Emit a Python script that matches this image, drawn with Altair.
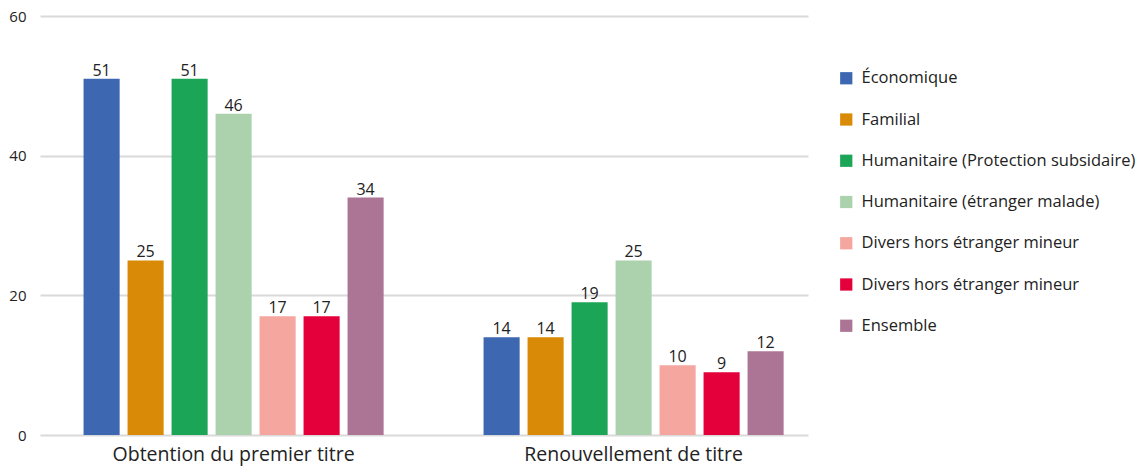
import altair as alt
import pandas as pd

groups = ["Obtention du premier titre", "Renouvellement de titre"]
series = [
    "Économique",
    "Familial",
    "Humanitaire (Protection subsidaire)",
    "Humanitaire (étranger malade)",
    "Divers hors étranger mineur",
    "Divers hors étranger mineur",
    "Ensemble",
]
colors = ["#3d67b0", "#d98a06", "#1ba557", "#abd1ad", "#f5a69f", "#e4003a", "#ac7596"]
first_title = [51, 25, 51, 46, 17, 17, 34]
renewal = [14, 14, 19, 25, 10, 9, 12]

# series keys are unique even when two labels repeat
keys = [f"s{i}" for i in range(len(series))]
rows = []
for g, vals in zip(groups, [first_title, renewal]):
    for k, v in zip(keys, vals):
        rows.append({"groupe": g, "serie": k, "valeur": v})
df = pd.DataFrame(rows)

label_expr = " : ".join(
    [f"datum.value == '{k}' ? '{s}'" for k, s in zip(keys, series)]
) + " : ''"

FONT = "Open Sans"
TXT = "#222222"

x = alt.X(
    "groupe:N",
    sort=groups,
    title=None,
    scale=alt.Scale(paddingInner=0.23, paddingOuter=0.075, align=0.66),
    axis=alt.Axis(labelAngle=0, labelFontSize=19.5, labelColor=TXT, labelFont=FONT,
                  labelLimit=500, ticks=False, domain=False, grid=False,
                  labelPadding=10),
)
xo = alt.XOffset("serie:N", sort=keys,
                 scale=alt.Scale(paddingInner=0.18, paddingOuter=0.09))
y = alt.Y(
    "valeur:Q",
    title=None,
    scale=alt.Scale(domain=[0, 60]),
    axis=alt.Axis(values=[0, 20, 40, 60], labelFontSize=15, labelColor=TXT,
                  labelFont=FONT, ticks=False, domain=False, labelPadding=14,
                  gridColor="#d9d9d9", gridWidth=2),
)

bars = alt.Chart(df).mark_bar().encode(
    x=x,
    xOffset=xo,
    y=y,
    color=alt.Color(
        "serie:N",
        sort=keys,
        scale=alt.Scale(domain=keys, range=colors),
        legend=alt.Legend(
            title=None, orient="none", legendX=798, legendY=54,
            symbolType="square", symbolSize=150, symbolStrokeWidth=0,
            labelExpr=label_expr, labelFontSize=16.5, labelFont=FONT,
            labelColor=TXT, rowPadding=24.25, labelOffset=7, labelLimit=400,
        ),
    ),
)

labels = alt.Chart(df).mark_text(
    baseline="bottom", dy=0, fontSize=16, font=FONT, color=TXT
).encode(x=x, xOffset=xo, y=y, text="valeur:Q")

chart = (
    (bars + labels)
    .properties(
        width=768,
        height=419,
        background="white",
        autosize=alt.AutoSizeParams(type="none"),
        padding={"left": 40, "top": 16, "right": 340, "bottom": 33},
    )
    .configure_view(strokeWidth=0, stroke="transparent")
)

chart.save("out.html", embed_options={"renderer": "svg", "actions": False})
